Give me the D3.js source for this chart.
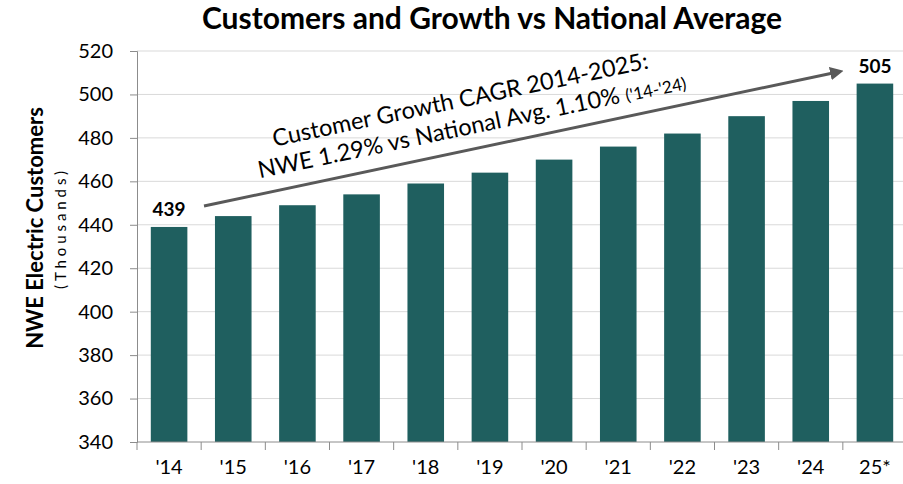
<!DOCTYPE html>
<html>
<head>
<meta charset="utf-8">
<script src="https://cdn.jsdelivr.net/npm/d3@7"></script>
<style>
  body { margin: 0; background: #fff; }
  text { font-family: Lato, "Open Sans", sans-serif; }
</style>
</head>
<body>
<div class="chart"></div>
<script>
const width = 903, height = 484;

const years = ["'14", "'15", "'16", "'17", "'18", "'19", "'20", "'21", "'22", "'23", "'24", "25*"];
const customers = [439, 444, 449, 454, 459, 464, 470, 476, 482, 490, 497, 505];
const yTicks = [340, 360, 380, 400, 420, 440, 460, 480, 500, 520];
const endLabels = [{i: 0, text: "439"}, {i: 11, text: "505"}];

const margin = {top: 51, right: -4, bottom: 42, left: 137};

const svg = d3.select(".chart")
    .append("svg")
    .attr("width", width)
    .attr("height", height);

const x = d3.scaleBand()
    .domain(years)
    .range([margin.left, width - margin.right])
    .paddingInner(0.43)
    .paddingOuter(0.215);

const y = d3.scaleLinear()
    .domain([340, 520])
    .range([height - margin.bottom, margin.top]);

// gridlines
svg.append("g")
    .selectAll("line")
    .data(yTicks.slice(1))
    .join("line")
    .attr("x1", margin.left)
    .attr("x2", width)
    .attr("y1", d => y(d))
    .attr("y2", d => y(d))
    .attr("stroke", "#d9d9d9")
    .attr("stroke-width", 1);

// y axis
const yAxis = svg.append("g")
    .attr("transform", `translate(${margin.left},0)`)
    .call(d3.axisLeft(y).tickValues(yTicks).tickSize(7).tickPadding(17));
yAxis.select(".domain").attr("stroke", "#8c8c8c");
yAxis.selectAll(".tick line").attr("stroke", "#8c8c8c");
yAxis.selectAll(".tick text")
    .attr("fill", "#000")
    .style("font-size", "20px");

// bars
svg.append("g")
    .selectAll("rect")
    .data(customers)
    .join("rect")
    .attr("x", (d, i) => x(years[i]))
    .attr("width", x.bandwidth())
    .attr("y", d => y(d))
    .attr("height", d => y(340) - y(d))
    .attr("fill", "#1f5f5f");

// x axis with ticks at category boundaries
const xAxisG = svg.append("g")
    .attr("transform", `translate(0,${y(340)})`);
xAxisG.append("line")
    .attr("x1", margin.left)
    .attr("x2", width)
    .attr("stroke", "#8c8c8c");
const step = x.step();
xAxisG.selectAll(".xt")
    .data(d3.range(years.length + 1))
    .join("line")
    .attr("class", "xt")
    .attr("x1", i => margin.left + i * step)
    .attr("x2", i => margin.left + i * step)
    .attr("y1", 0)
    .attr("y2", 8)
    .attr("stroke", "#8c8c8c");
xAxisG.selectAll("text")
    .data(years)
    .join("text")
    .attr("x", d => x(d) + x.bandwidth() / 2)
    .attr("y", 32)
    .attr("text-anchor", "middle")
    .style("font-size", "20px")
    .text(d => d);

// end value labels
svg.append("g")
    .selectAll("text")
    .data(endLabels)
    .join("text")
    .attr("x", d => x(years[d.i]) + x.bandwidth() / 2)
    .attr("y", d => y(customers[d.i]) - 11)
    .attr("text-anchor", "middle")
    .style("font-size", "19px")
    .style("font-weight", "bold")
    .text(d => d.text);

// title
svg.append("text")
    .attr("x", 492)
    .attr("y", 29)
    .attr("text-anchor", "middle")
    .style("font-size", "30px")
    .style("font-weight", "bold")
    .text("Customers and Growth vs National Average");

// y axis titles
svg.append("text")
    .attr("transform", "translate(43,228) rotate(-90)")
    .attr("text-anchor", "middle")
    .style("font-size", "22px")
    .style("font-weight", "bold")
    .text("NWE Electric Customers");
svg.append("text")
    .attr("transform", "translate(66,230) rotate(-90)")
    .attr("text-anchor", "middle")
    .attr("textLength", 118)
    .style("font-size", "15px")
    .text("(Thousands)");

// growth arrow
svg.append("defs").append("marker")
    .attr("id", "arrowhead")
    .attr("viewBox", "0 0 10 10")
    .attr("refX", 2)
    .attr("refY", 5)
    .attr("markerWidth", 4.5)
    .attr("markerHeight", 4.5)
    .attr("orient", "auto")
    .append("path")
    .attr("d", "M0,0L10,5L0,10Z")
    .attr("fill", "#595959");

svg.append("line")
    .attr("x1", 204)
    .attr("y1", 206)
    .attr("x2", 833)
    .attr("y2", 73)
    .attr("stroke", "#595959")
    .attr("stroke-width", 3)
    .attr("marker-end", "url(#arrowhead)");

// annotation text
const note = svg.append("g")
    .attr("transform", "translate(470,117) rotate(-11.8)");
note.append("text")
    .attr("x", -6)
    .attr("y", -11)
    .attr("text-anchor", "middle")
    .style("font-size", "23.5px")
    .text("Customer Growth CAGR 2014-2025:");
const line2 = note.append("text")
    .attr("x", 0)
    .attr("y", 17)
    .attr("text-anchor", "middle")
    .style("font-size", "23.5px");
line2.append("tspan").text("NWE 1.29% vs National Avg. 1.10% ");
line2.append("tspan").style("font-size", "17px").text("('14-'24)");
</script>
</body>
</html>
